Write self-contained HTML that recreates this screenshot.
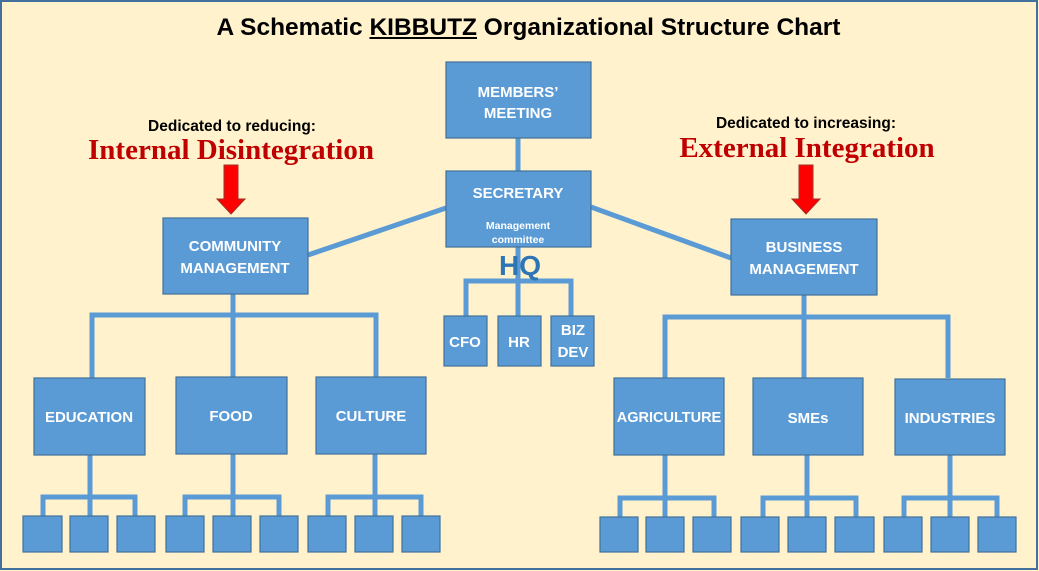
<!DOCTYPE html>
<html><head><meta charset="utf-8"><style>
html,body{margin:0;padding:0;background:#fff2cc;}
svg{display:block;}
text{font-family:"Liberation Sans",sans-serif;}
#t{position:absolute;left:0;top:14px;width:1057px;text-align:center;font:bold 24.5px "Liberation Sans",sans-serif;color:#000;}
#t span{text-decoration:underline;}
</style></head><body>
<div id="t">A Schematic <span>KIBBUTZ</span> Organizational Structure Chart</div>
<svg width="1039" height="571" viewBox="0 0 1039 571" xmlns="http://www.w3.org/2000/svg">
<rect x="1" y="1" width="1036" height="568" fill="#fff2cc" stroke="#41719c" stroke-width="2"/>
<g stroke="#5b9bd5" stroke-width="5" fill="none">
<line x1="518" y1="138" x2="518" y2="171"/>
<line x1="446" y1="208" x2="308" y2="255"/>
<line x1="591" y1="207" x2="731" y2="258"/>
<line x1="518" y1="247" x2="518" y2="316"/>
<polyline points="466,316 466,281 571,281 571,316"/>
<line x1="233" y1="294" x2="233" y2="378"/>
<polyline points="92,378 92,315 376,315 376,378"/>
<line x1="804" y1="295" x2="804" y2="378"/>
<polyline points="665,378 665,317 948,317 948,378"/>
<line x1="90" y1="455" x2="90" y2="516"/><polyline points="43,516 43,497 135,497 135,516"/>
<line x1="233" y1="454" x2="233" y2="516"/><polyline points="185,516 185,497 279,497 279,516"/>
<line x1="375" y1="454" x2="375" y2="516"/><polyline points="328,516 328,497 421,497 421,516"/>
<line x1="665" y1="455" x2="665" y2="517"/><polyline points="620,517 620,498 714,498 714,517"/>
<line x1="807" y1="455" x2="807" y2="517"/><polyline points="763,517 763,498 856,498 856,517"/>
<line x1="950" y1="455" x2="950" y2="517"/><polyline points="904,517 904,498 997,498 997,517"/>
</g>
<g fill="#5b9bd5" stroke="#41719c" stroke-width="1.2">
<rect x="446" y="62" width="145" height="76"/>
<rect x="446" y="171" width="145" height="76"/>
<rect x="163" y="218" width="145" height="76"/>
<rect x="731" y="219" width="146" height="76"/>
<rect x="444" y="316" width="43" height="50"/>
<rect x="498" y="316" width="43" height="50"/>
<rect x="551" y="316" width="43" height="50"/>
<rect x="34" y="378" width="111" height="77"/>
<rect x="176" y="377" width="111" height="77"/>
<rect x="316" y="377" width="110" height="77"/>
<rect x="614" y="378" width="110" height="77"/>
<rect x="753" y="378" width="110" height="77"/>
<rect x="895" y="379" width="110" height="76"/>
<rect x="23" y="516" width="39" height="36"/><rect x="70" y="516" width="38" height="36"/><rect x="117" y="516" width="38" height="36"/>
<rect x="166" y="516" width="38" height="36"/><rect x="213" y="516" width="38" height="36"/><rect x="260" y="516" width="38" height="36"/>
<rect x="308" y="516" width="38" height="36"/><rect x="355" y="516" width="38" height="36"/><rect x="402" y="516" width="38" height="36"/>
<rect x="600" y="517" width="38" height="35"/><rect x="646" y="517" width="38" height="35"/><rect x="693" y="517" width="38" height="35"/>
<rect x="741" y="517" width="38" height="35"/><rect x="788" y="517" width="38" height="35"/><rect x="835" y="517" width="39" height="35"/>
<rect x="884" y="517" width="38" height="35"/><rect x="931" y="517" width="38" height="35"/><rect x="978" y="517" width="38" height="35"/>
</g>
<g fill="#fff" font-weight="bold" text-anchor="middle" font-size="15">
<text x="518" y="97">MEMBERS’</text><text x="518" y="118">MEETING</text>
<text x="518" y="198">SECRETARY</text>
<text x="518" y="229" font-size="10.5">Management</text><text x="518" y="243" font-size="10.5">committee</text>
<text x="235" y="251">COMMUNITY</text><text x="235" y="273">MANAGEMENT</text>
<text x="804" y="252">BUSINESS</text><text x="804" y="274">MANAGEMENT</text>
<text x="465" y="347">CFO</text><text x="519" y="347">HR</text>
<text x="573" y="335">BIZ</text><text x="573" y="357">DEV</text>
<text x="89" y="422">EDUCATION</text><text x="231" y="421">FOOD</text><text x="371" y="421">CULTURE</text>
<text x="669" y="422" font-size="14.5">AGRICULTURE</text><text x="808" y="423">SMEs</text><text x="950" y="423">INDUSTRIES</text>
</g>
<text x="520" y="275" font-size="28" font-weight="bold" text-anchor="middle" fill="#2e75b6">HQ</text>
<g font-weight="bold" text-anchor="middle">
<text x="232" y="131" font-size="15.5" fill="#000">Dedicated to reducing:</text>
<text x="231" y="159" font-size="29" fill="#c00000" style="font-family:'Liberation Serif',serif">Internal Disintegration</text>
<text x="806" y="128" font-size="15.5" fill="#000">Dedicated to increasing:</text>
<text x="807" y="157" font-size="29" fill="#c00000" style="font-family:'Liberation Serif',serif">External Integration</text>
</g>
<g fill="#ff0000" stroke="#a0302a" stroke-width="1">
<polygon points="224,165 238,165 238,199 245,199 231,214 217,199 224,199"/>
<polygon points="799,165 813,165 813,199 820,199 806,214 792,199 799,199"/>
</g>
</svg>
</body></html>
